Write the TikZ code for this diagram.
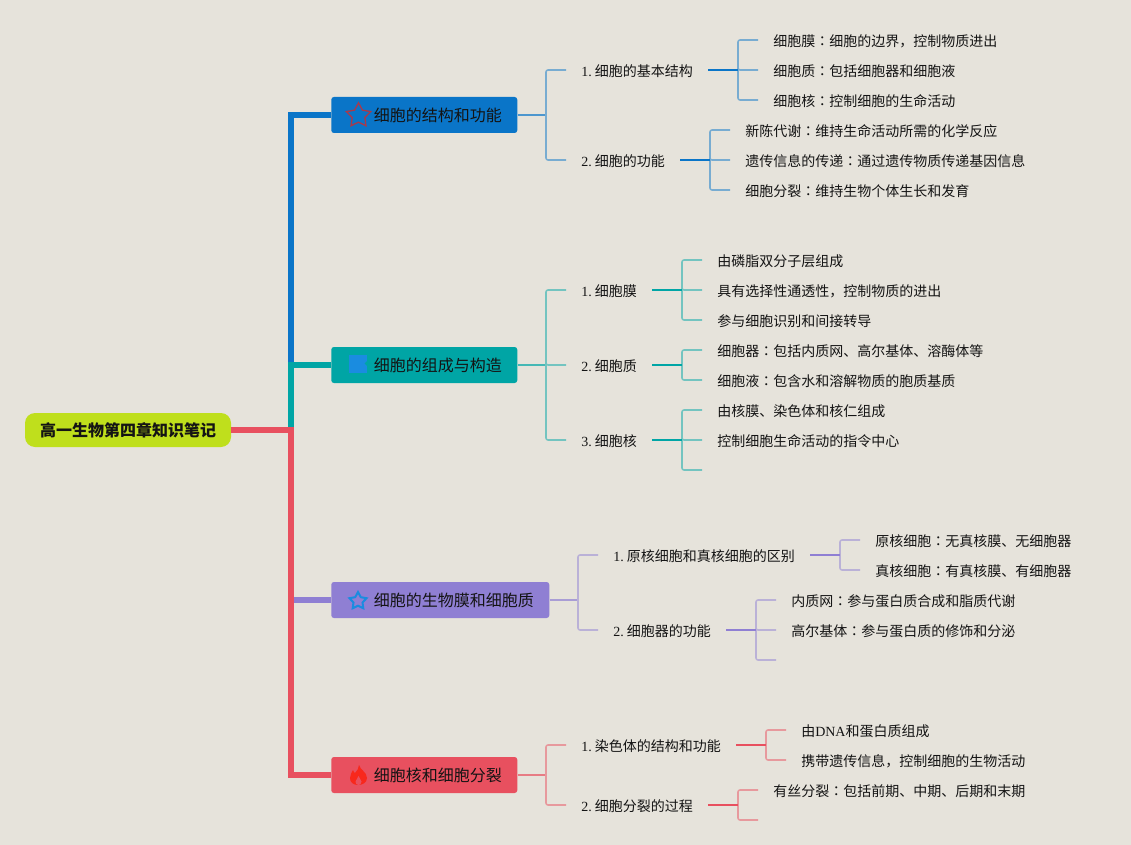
\documentclass[tikz,border=0pt]{standalone}
\usepackage{fontspec}
\usetikzlibrary{shapes.geometric}
\setmainfont{Liberation Serif}
\newfontfamily\cjk{Noto Sans CJK SC}
\newfontfamily\cjkjp{Noto Sans CJK JP}
\newcommand{\numlabel}[1]{{\rmfamily #1. }\kern-1.1pt}
\newcommand{\colonmark}{{\cjkjp ：}}
\definecolor{paperbg}{HTML}{E6E3DB}
\definecolor{inkblack}{HTML}{141414}
\definecolor{rootlime}{HTML}{BFDF1C}
\definecolor{topicblue}{HTML}{0A75C8}
\definecolor{topicteal}{HTML}{00A5A5}
\definecolor{topicviolet}{HTML}{8F7FD3}
\definecolor{topicred}{HTML}{E8505F}
\definecolor{firered}{HTML}{F8281C}
\definecolor{iconblue}{HTML}{1A8CE0}
\definecolor{staredge}{HTML}{A83A4C}
\tikzset{
  rootbox/.style={fill=rootlime,rounded corners=7.5pt,minimum width=154.5pt,minimum height=25.5pt,inner sep=0pt,font=\cjk\fontsize{12}{14}\selectfont\bfseries},
  topicbox/.style={fill=#1,rounded corners=2pt,anchor=west,minimum height=27pt,inner xsep=11.6pt,inner ysep=0pt,text height=11pt,text depth=1.2pt,font=\cjk\fontsize{12}{14}\selectfont},
  subtext/.style={anchor=west,inner xsep=11.25pt,inner ysep=0pt,text height=11pt,text depth=1.5pt,font=\cjk\fontsize{10.5}{12}\selectfont},
  trunk/.style={draw=#1,line width=4.2pt},
  stem/.style={draw=#1,line width=1.4pt},
  leaf/.style={draw=#1!50!paperbg,line width=1.15pt,rounded corners=1.5pt},
  link/.style={draw=#1!70!paperbg,line width=1.15pt},
  staricon/.style={draw=#1,star,star points=5,star point ratio=1.9,inner sep=0pt,minimum size=19pt}
}
\begin{document}
\begin{tikzpicture}[x=0.75pt,y=-0.75pt,text=inkblack]
\useasboundingbox[fill=paperbg] (0,0) rectangle (1131,845);
% trunk
\node[rootbox] (root) at (128,430) {高一生物第四章知识笔记};
\node[topicbox=topicblue] (cell) at (331,115) {\hspace*{20.3pt}细胞的结构和功能};
\node[topicbox=topicteal] (make) at (331,365) {\hspace*{20.3pt}细胞的组成与构造};
\node[topicbox=topicviolet] (film) at (331,600) {\hspace*{20.3pt}细胞的生物膜和细胞质};
\node[topicbox=topicred] (core) at (331,775) {\hspace*{20.3pt}细胞核和细胞分裂};
\coordinate (Tr) at (291,430);
\coordinate (Tm) at (291,365);
\coordinate (Tf) at (291,600);
\draw[trunk=topicblue] (Tm) |- (cell.west);
\draw[trunk=topicviolet] (Tf) -- (film.west);
\draw[trunk=topicteal] (Tr) |- (make.west);
\draw[trunk=topicred] (root.east) -- (Tr) |- (core.west);
% icons
\node[staricon=staredge,line width=1pt] (starA) at (358.5,115.5) {};
\node[fill=iconblue,inner sep=0pt,minimum size=13.5pt] (flagB) at (358,363.5) {};
\fill[topicteal] (367.5,360.5) -- (364.5,363.5) -- (367.5,366.5) -- cycle;
\node[staricon=iconblue,line width=1.5pt,minimum size=13.5pt] (starC) at (358,601) {};
\fill[firered] (359,765) .. controls (360,770) and (367,772) .. (367,778) .. controls (367,783) and (362,785) .. (358,785) .. controls (353,785) and (350,782) .. (350,778) .. controls (350,775) and (352,772) .. (353,770) .. controls (354,772) and (354,773) .. (355,773) .. controls (357,771) and (359,768) .. (359,765) -- cycle;
\fill[topicred] (358.5,776) .. controls (359,779) and (361.5,779) .. (361.5,781.5) .. controls (361.5,784) and (360,785) .. (358.5,785) .. controls (356.5,785) and (355.5,783.5) .. (355.5,781.5) .. controls (355.5,779.5) and (358,779) .. (358.5,776) -- cycle;
% first branch
\node[subtext] (A1) at (566,70) {\numlabel{1}细胞的基本结构};
\node[subtext] (A2) at (566,160) {\numlabel{2}细胞的功能};
\coordinate (Aj) at (546,115);
\draw[link=topicblue] (cell.east) -- (Aj);
\foreach \n in {A1,A2} \draw[leaf=topicblue] (Aj) |- (\n.west);
\node[subtext] (A11) at (758,40) {细胞膜\colonmark 细胞的边界，控制物质进出};
\node[subtext] (A12) at (758,70) {细胞质\colonmark 包括细胞器和细胞液};
\node[subtext] (A13) at (758,100) {细胞核\colonmark 控制细胞的生命活动};
\coordinate (A1j) at (738,70);
\foreach \n in {A11,A12,A13} \draw[leaf=topicblue] (A1j) |- (\n.west);
\draw[stem=topicblue] (A1.east) -- (A1j);
\node[subtext] (A21) at (730,130) {新陈代谢\colonmark 维持生命活动所需的化学反应};
\node[subtext] (A22) at (730,160) {遗传信息的传递\colonmark 通过遗传物质传递基因信息};
\node[subtext] (A23) at (730,190) {细胞分裂\colonmark 维持生物个体生长和发育};
\coordinate (A2j) at (710,160);
\foreach \n in {A21,A22,A23} \draw[leaf=topicblue] (A2j) |- (\n.west);
\draw[stem=topicblue] (A2.east) -- (A2j);
% second branch
\node[subtext] (B1) at (566,290) {\numlabel{1}细胞膜};
\node[subtext] (B2) at (566,365) {\numlabel{2}细胞质};
\node[subtext] (B3) at (566,440) {\numlabel{3}细胞核};
\coordinate (Bj) at (546,365);
\draw[link=topicteal] (make.east) -- (Bj);
\foreach \n in {B1,B2,B3} \draw[leaf=topicteal] (Bj) |- (\n.west);
\node[subtext] (B11) at (702,260) {由磷脂双分子层组成};
\node[subtext] (B12) at (702,290) {具有选择性通透性，控制物质的进出};
\node[subtext] (B13) at (702,320) {参与细胞识别和间接转导};
\coordinate (B1j) at (682,290);
\foreach \n in {B11,B12,B13} \draw[leaf=topicteal] (B1j) |- (\n.west);
\draw[stem=topicteal] (B1.east) -- (B1j);
\node[subtext] (B21) at (702,350) {细胞器\colonmark 包括内质网、高尔基体、溶酶体等};
\node[subtext] (B22) at (702,380) {细胞液\colonmark 包含水和溶解物质的胞质基质};
\coordinate (B2j) at (682,365);
\foreach \n in {B21,B22} \draw[leaf=topicteal] (B2j) |- (\n.west);
\draw[stem=topicteal] (B2.east) -- (B2j);
\node[subtext] (B31) at (702,410) {由核膜、染色体和核仁组成};
\node[subtext] (B32) at (702,440) {控制细胞生命活动的指令中心};
\coordinate (B33) at (702,470);
\coordinate (B3j) at (682,440);
\foreach \n in {B31.west,B32.west,B33} \draw[leaf=topicteal] (B3j) |- (\n);
\draw[stem=topicteal] (B3.east) -- (B3j);
% third branch
\node[subtext] (C1) at (598,555) {\numlabel{1}原核细胞和真核细胞的区别};
\node[subtext] (C2) at (598,630) {\numlabel{2}细胞器的功能};
\coordinate (Cj) at (578,600);
\draw[link=topicviolet] (film.east) -- (Cj);
\foreach \n in {C1,C2} \draw[leaf=topicviolet] (Cj) |- (\n.west);
\node[subtext] (C11) at (860,540) {原核细胞\colonmark 无真核膜、无细胞器};
\node[subtext] (C12) at (860,570) {真核细胞\colonmark 有真核膜、有细胞器};
\coordinate (C1j) at (840,555);
\foreach \n in {C11,C12} \draw[leaf=topicviolet] (C1j) |- (\n.west);
\draw[stem=topicviolet] (C1.east) -- (C1j);
\node[subtext] (C21) at (776,600) {内质网\colonmark 参与蛋白质合成和脂质代谢};
\node[subtext] (C22) at (776,630) {高尔基体\colonmark 参与蛋白质的修饰和分泌};
\coordinate (C23) at (776,660);
\coordinate (C2j) at (756,630);
\foreach \n in {C21.west,C22.west,C23} \draw[leaf=topicviolet] (C2j) |- (\n);
\draw[stem=topicviolet] (C2.east) -- (C2j);
% fourth branch
\node[subtext] (D1) at (566,745) {\numlabel{1}染色体的结构和功能};
\node[subtext] (D2) at (566,805) {\numlabel{2}细胞分裂的过程};
\coordinate (Dj) at (546,775);
\draw[link=topicred] (core.east) -- (Dj);
\foreach \n in {D1,D2} \draw[leaf=topicred] (Dj) |- (\n.west);
\node[subtext] (D11) at (786,730) {由{\rmfamily DNA}和蛋白质组成};
\node[subtext] (D12) at (786,760) {携带遗传信息，控制细胞的生物活动};
\coordinate (D1j) at (766,745);
\foreach \n in {D11,D12} \draw[leaf=topicred] (D1j) |- (\n.west);
\draw[stem=topicred] (D1.east) -- (D1j);
\node[subtext] (D21) at (758,790) {有丝分裂\colonmark 包括前期、中期、后期和末期};
\coordinate (D22) at (758,820);
\coordinate (D2j) at (738,805);
\foreach \n in {D21.west,D22} \draw[leaf=topicred] (D2j) |- (\n);
\draw[stem=topicred] (D2.east) -- (D2j);
\end{tikzpicture}
\end{document}
